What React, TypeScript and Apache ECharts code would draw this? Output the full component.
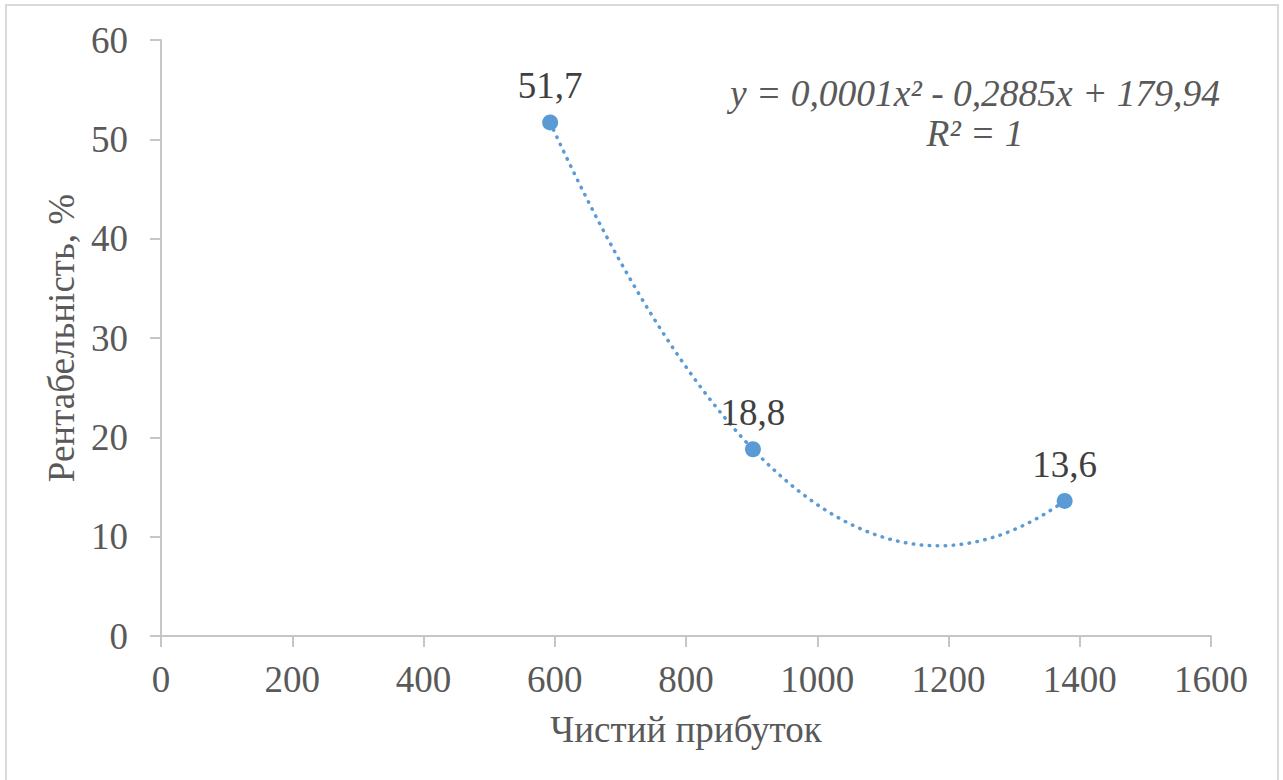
import React, { useEffect, useRef } from "react";
import * as echarts from "echarts";

const profit = [593, 902, 1377];
const profitability = [51.7, 18.8, 13.6];
const pointLabels = ["51,7", "18,8", "13,6"];
const equationLines = ["y = 0,0001x² - 0,2885x + 179,94", "R² = 1"];
const xTicks = { min: 0, max: 1600, interval: 200 };
const yTicks = { min: 0, max: 60, interval: 10 };

// least-squares polynomial (order 2) fit of the data, as the chart's trendline
function fitQuadratic(xs: number[], ys: number[]) {
  const n = xs.length;
  const s = [0, 0, 0, 0, 0];
  const t = [0, 0, 0];
  for (let i = 0; i < n; i++) {
    for (let k = 0; k < 5; k++) s[k] += Math.pow(xs[i], k);
    for (let k = 0; k < 3; k++) t[k] += ys[i] * Math.pow(xs[i], k);
  }
  const M = [
    [s[0], s[1], s[2], t[0]],
    [s[1], s[2], s[3], t[1]],
    [s[2], s[3], s[4], t[2]],
  ];
  for (let c = 0; c < 3; c++) {
    let p = c;
    for (let r = c + 1; r < 3; r++) if (Math.abs(M[r][c]) > Math.abs(M[p][c])) p = r;
    [M[c], M[p]] = [M[p], M[c]];
    for (let r = 0; r < 3; r++) {
      if (r === c) continue;
      const f = M[r][c] / M[c][c];
      for (let k = c; k < 4; k++) M[r][k] -= f * M[c][k];
    }
  }
  return [M[0][3] / M[0][0], M[1][3] / M[1][1], M[2][3] / M[2][2]];
}

export default function App() {
  const ref = useRef<HTMLDivElement>(null);
  useEffect(() => {
    if (!ref.current) return;
    const chart = echarts.init(ref.current, undefined, { renderer: "svg" });
    const [c0, c1, c2] = fitQuadratic(profit, profitability);
    const xMin = Math.min(...profit);
    const xMax = Math.max(...profit);
    const steps = 120;
    const trend: number[][] = [];
    for (let i = 0; i <= steps; i++) {
      const x = xMin + ((xMax - xMin) * i) / steps;
      trend.push([x, c0 + c1 * x + c2 * x * x]);
    }
    const font = "Times New Roman, Liberation Serif, DejaVu Serif, serif";
    chart.setOption({
      animation: false,
      backgroundColor: "#ffffff",
      textStyle: { fontFamily: font },
      grid: { left: 161, right: 72, top: 40, bottom: 144, containLabel: false },
      xAxis: {
        type: "value",
        min: xTicks.min,
        max: xTicks.max,
        interval: xTicks.interval,
        name: "Чистий прибуток",
        nameLocation: "middle",
        nameGap: 75,
        nameTextStyle: { fontFamily: font, fontSize: 37, color: "#595959" },
        axisLine: { show: true, onZero: false, lineStyle: { color: "#c6c6c6", width: 2 } },
        axisTick: { show: true, inside: false, length: 11, lineStyle: { color: "#c6c6c6", width: 2 } },
        axisLabel: {
          fontFamily: font,
          fontSize: 37,
          color: "#595959",
          margin: 25,
          formatter: (v: number) => String(v),
        },
        splitLine: { show: false },
      },
      yAxis: {
        type: "value",
        min: yTicks.min,
        max: yTicks.max,
        interval: yTicks.interval,
        name: "Рентабельність, %",
        nameLocation: "middle",
        nameGap: 78,
        nameTextStyle: { fontFamily: font, fontSize: 37, color: "#595959" },
        axisLine: { show: true, onZero: false, lineStyle: { color: "#c6c6c6", width: 2 } },
        axisTick: { show: true, inside: false, length: 11, lineStyle: { color: "#c6c6c6", width: 2 } },
        axisLabel: {
          fontFamily: font,
          fontSize: 37,
          color: "#595959",
          margin: 33,
          formatter: (v: number) => String(v),
        },
        splitLine: { show: false },
      },
      graphic: [
        {
          type: "rect",
          shape: { x: 6, y: 5, width: 1272, height: 800 },
          style: { fill: "none", stroke: "#d9d9d9", lineWidth: 2 },
          silent: true,
        },
        {
          type: "text",
          x: 975,
          y: 93,
          style: {
            text: equationLines[0],
            fontFamily: font,
            fontStyle: "italic",
            fontSize: 37.5,
            fill: "#595959",
            align: "center",
            verticalAlign: "middle",
          },
        },
        {
          type: "text",
          x: 975,
          y: 133,
          style: {
            text: equationLines[1],
            fontFamily: font,
            fontStyle: "italic",
            fontSize: 37.5,
            fill: "#595959",
            align: "center",
            verticalAlign: "middle",
          },
        },
      ],
      series: [
        {
          type: "line",
          data: trend,
          showSymbol: false,
          smooth: false,
          lineStyle: { color: "#5b9bd5", width: 3.5, type: [0.5, 7.5], cap: "round" },
          z: 2,
          silent: true,
        },
        {
          type: "scatter",
          data: profit.map((x, i) => [x, profitability[i]]),
          symbol: "circle",
          symbolSize: 16,
          itemStyle: { color: "#5b9bd5", opacity: 1 },
          label: {
            show: true,
            position: "top",
            distance: 10,
            formatter: (p: any) => pointLabels[p.dataIndex],
            fontFamily: font,
            fontSize: 37,
            color: "#404040",
          },
          z: 3,
        },
      ],
    });
    return () => chart.dispose();
  }, []);
  return (
    <div
      ref={ref}
      style={{ position: "fixed", left: 0, top: 0, width: 1283, height: 780, background: "#fff" }}
    />
  );
}
